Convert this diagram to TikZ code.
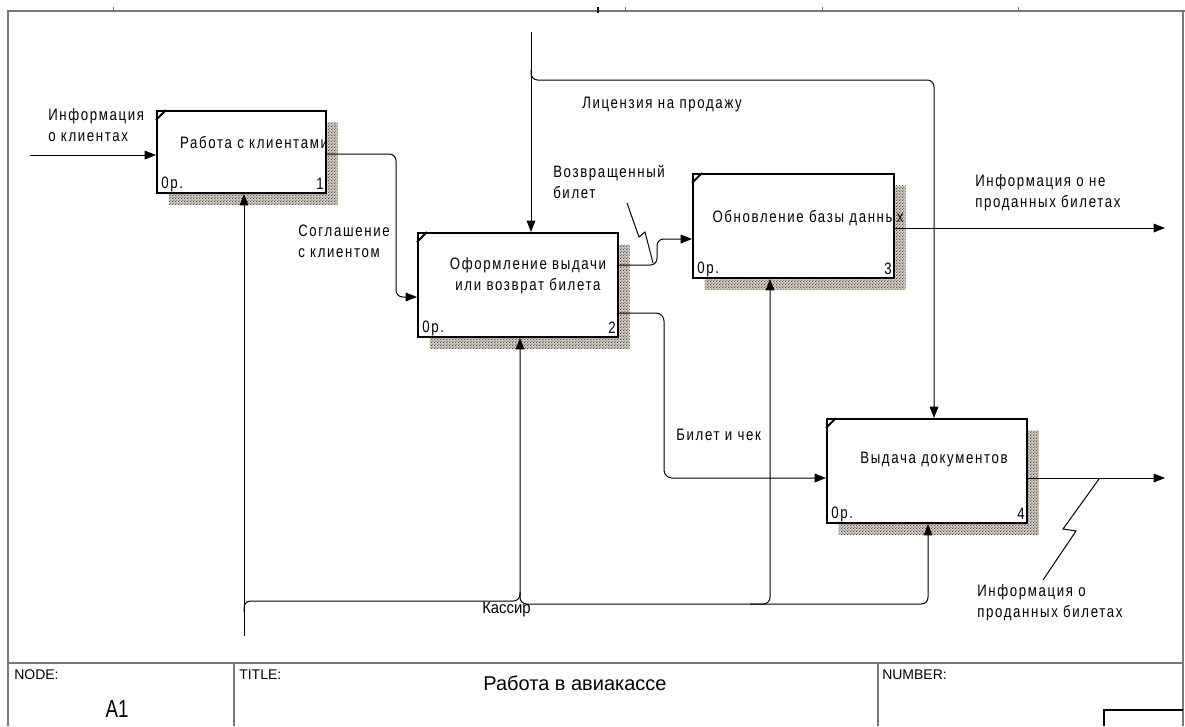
\documentclass[tikz,border=0pt]{standalone}
\usepackage{fontspec}
\setmainfont{Liberation Sans}
\newfontfamily\idf[FakeStretch=0.8,LetterSpace=10]{Liberation Sans}
\newfontfamily\idfk[FakeStretch=0.9]{Liberation Sans}
\newfontfamily\idfa[FakeStretch=0.76]{Liberation Sans}
\usetikzlibrary{arrows.meta,patterns}
\definecolor{shadefill}{RGB}{215,210,198}
\definecolor{framegray}{RGB}{120,120,120}
\pgfdeclarepatternformonly{idefdots}{\pgfpointorigin}{\pgfqpoint{2.4pt}{2.4pt}}{\pgfqpoint{2.4pt}{2.4pt}}{%
  \pgfpathrectangle{\pgfpointorigin}{\pgfqpoint{1pt}{1pt}}%
  \pgfpathrectangle{\pgfqpoint{1.2pt}{1.2pt}}{\pgfqpoint{1pt}{1pt}}%
  \pgfusepath{fill}}
\begin{document}
\begin{tikzpicture}[x=0.75pt,y=-0.75pt,
  box/.style={draw,line width=1.5pt,fill=white,inner sep=0pt},
  shad/.style={inner sep=0pt,preaction={fill=shadefill},pattern=idefdots,pattern color=black!70},
  lbl/.style={font=\idf\fontsize{12.4}{15.75}\selectfont,align=left,inner sep=0pt},
  kas/.style={font=\idfk\fontsize{12.4}{15}\selectfont,inner sep=0pt},
  tb/.style={font=\fontsize{10.5}{12.5}\selectfont,inner sep=0pt},
  frame/.style={draw=framegray,line width=1.1pt},
  arr/.style={line width=0.75pt,-{Triangle[length=8.5pt,width=6.5pt]}},
  ln/.style={line width=0.75pt},
  corner/.style={line width=1.5pt}
]
\useasboundingbox (0,0) rectangle (1185,726);

% frame
\draw[frame] (8,726) -- (8,11) -- (1185,11);
\draw[frame] (1183,11) -- (1183,726);
\foreach \tx in {113,625,822,1018} \draw[frame,line width=0.75pt] (\tx,7) -- (\tx,11);
\draw[line width=1pt] (598,7) -- (598,13);
\draw[frame] (8,663) -- (1183,663);
\draw[frame] (234,663) -- (234,726);
\draw[frame] (878,663) -- (878,726);
\draw[line width=0.9pt] (1104,726) -- (1104,710) -- (1183,710);
\node[tb,anchor=west] (nodelbl) at (14,675) {NODE:};
\node[tb,anchor=west] (titlelbl) at (239,675) {TITLE:};
\node[tb,anchor=west] (numlbl) at (882,675) {NUMBER:};
\node[font=\idfa\fontsize{18.5}{20}\selectfont,inner sep=0pt] (nodeval) at (117,709) {A1};
\node[font=\fontsize{15}{17}\selectfont,inner sep=0pt] (titleval) at (575,683) {Работа в авиакассе};

% shadows
\node[shad,minimum width=126.75pt,minimum height=61.5pt] (s1) at (253,163.5) {};
\node[shad,minimum width=150pt,minimum height=78pt] (s2) at (529.5,296.5) {};
\node[shad,minimum width=150.75pt,minimum height=78pt] (s3) at (805,237.5) {};
\node[shad,minimum width=150pt,minimum height=78pt] (s4) at (938.5,482.5) {};

% boxes
\node[box,minimum width=126.75pt,minimum height=61.5pt] (b1) at (241.5,152) {};
\node[box,minimum width=150pt,minimum height=78pt] (b2) at (518,285) {};
\node[box,minimum width=150.75pt,minimum height=78pt] (b3) at (793.5,226) {};
\node[box,minimum width=150pt,minimum height=78pt] (b4) at (927,471) {};

\foreach \b in {b1,b2,b3,b4}
  \draw[corner] ([shift={(0,10)}]\b.north west) -- ([shift={(10,0)}]\b.north west);

% box texts
\node[lbl,align=center] (t1) at (254,143) {Работа с клиентами};
\node[lbl,align=center] (t2) at (528,276) {Оформление выдачи\\или возврат билета};
\node[lbl,align=center] (t3) at (808,218) {Обновление базы данных};
\node[lbl,align=center] (t4) at (934,460) {Выдача документов};

\foreach \b/\n in {b1/1,b2/2,b3/3,b4/4}{
  \node[lbl,anchor=west] (\b op) at ([shift={(5,-10)}]\b.south west) {0р.};
  \node[lbl,anchor=east] (\b num) at ([shift={(-3,-10)}]\b.south east) {\n};
}

% coordinates for free ends and bends
\coordinate (in1) at (30,155);
\coordinate (c0) at (531,32);
\coordinate (ck) at (934,80);
\coordinate (o3) at (1165,228);
\coordinate (o4) at (1165,478);
\coordinate (m0) at (244,636);
\coordinate (mj2) at (520,601);
\coordinate (mj2b) at (520,604);
\coordinate (mj3) at (770,604);
\coordinate (mj4) at (928,604);

% input
\draw[arr] (in1) -- (b1.west |- in1);
% agreement
\draw[arr,rounded corners=5] (b1.east |- 0,154) -- (396,154) -- (396,297) -- (b2.west |- 0,297);
% control
\draw[arr] (c0) -- (c0 |- b2.north);
\draw[arr,rounded corners=5] (c0 |- 0,70) -- (c0 |- ck) -- (ck) -- (ck |- b4.north);
% returned ticket
\draw[arr,rounded corners=5] (b2.east |- 0,265) -- (657,265) -- (657,239) -- (b3.west |- 0,239);
% ticket and receipt
\draw[arr,rounded corners=6] (b2.east |- 0,313) -- (664,313) -- (664,478) -- (b4.west |- 0,478);
% outputs
\draw[arr] (b3.east |- o3) -- (o3);
\draw[arr] (b4.east |- o4) -- (o4);
% mechanisms
\draw[arr] (m0) -- (m0 |- b1.south);
\draw[arr,rounded corners=5] (m0 |- 0,612) -- (m0 |- mj2) -- (mj2) -- (mj2 |- b2.south);
\draw[arr,rounded corners=5] (520,592) -- (mj2b) -- (mj4) -- (mj4 |- b4.south);
\draw[arr,rounded corners=5] (750,604) -- (mj3) -- (mj3 |- b3.south);

% squiggles
\draw[ln] (627,203) -- (639,237) -- (645,232) -- (653,263);
\draw[ln] (1099,479) -- (1063,529) -- (1076,531) -- (1043,580);

% labels
\node[lbl,anchor=west] (l1) at (48,125) {Информация\\о клиентах};
\node[lbl,anchor=west] (l2) at (298,241) {Соглашение\\с клиентом};
\node[lbl,anchor=west] (l3) at (582,105) {Лицензия на продажу};
\node[lbl,anchor=west] (l4) at (553,182) {Возвращенный\\билет};
\node[lbl,anchor=west] (l5) at (975,193) {Информация о не\\проданных билетах};
\node[lbl,anchor=west] (l6) at (676,435) {Билет и чек};
\node[lbl,anchor=west] (l7) at (977,603) {Информация о\\проданных билетах};
\node[kas,anchor=west] (l8) at (482,610) {Кассир};
\end{tikzpicture}
\end{document}
